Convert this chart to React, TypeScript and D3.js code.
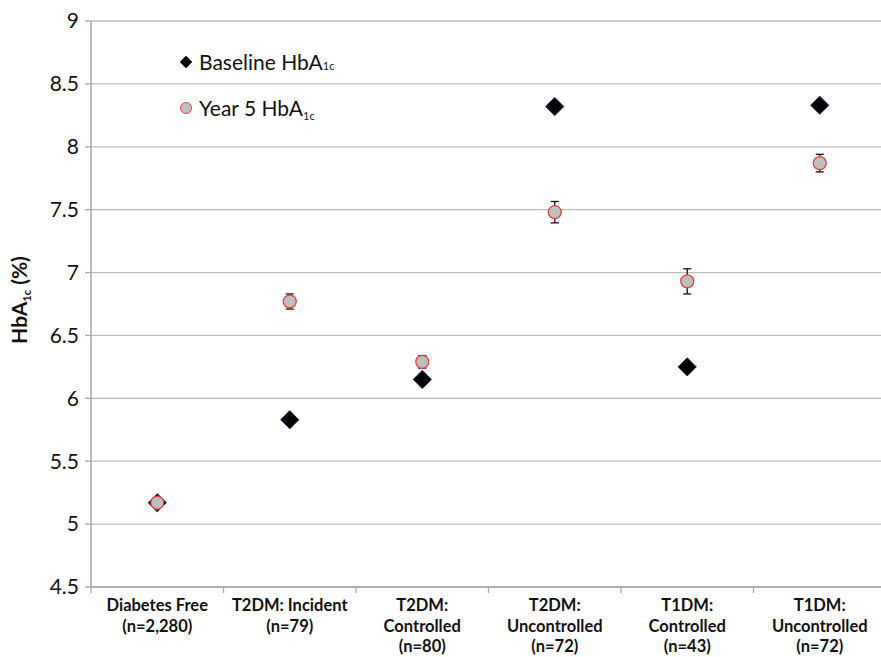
import React from "react";
import * as d3 from "d3";

const categories: string[][] = [
  ["Diabetes Free", "(n=2,280)"],
  ["T2DM: Incident", "(n=79)"],
  ["T2DM:", "Controlled", "(n=80)"],
  ["T2DM:", "Uncontrolled", "(n=72)"],
  ["T1DM:", "Controlled", "(n=43)"],
  ["T1DM:", "Uncontrolled", "(n=72)"],
];
const baseline = [5.17, 5.83, 6.15, 8.32, 6.25, 8.33];
const year5 = [5.17, 6.77, 6.29, 7.48, 6.93, 7.87];
const year5Err = [0, 0.06, 0.05, 0.085, 0.1, 0.07];
const yTicks = [4.5, 5, 5.5, 6, 6.5, 7, 7.5, 8, 8.5, 9];

const W = 881;
const H = 657;
const FONT = "Lato, 'Open Sans', sans-serif";

export default function App() {
  const x = d3.scaleBand<number>().domain(d3.range(categories.length)).range([91, 886]);
  const y = d3.scaleLinear().domain([4.5, 9]).range([587, 21]);
  const diamond = d3.symbol().type(d3.symbolDiamond2).size(210)();
  const legDiamond = d3.symbol().type(d3.symbolDiamond2).size(100)();
  const cx = (i: number) => (x(i) as number) + x.bandwidth() / 2;

  return (
    <svg width={W} height={H} style={{ position: "absolute", left: 0, top: 0, background: "#fff" }} fontFamily={FONT}>
      {/* gridlines */}
      {yTicks.map((t) => (
        <line key={"g" + t} x1={91} x2={886} y1={y(t)} y2={y(t)} stroke="#bdbdbd" strokeWidth={1.3} />
      ))}
      {/* y axis */}
      <line x1={91} x2={91} y1={y(9)} y2={y(4.5)} stroke="#a6a6a6" strokeWidth={1.5} />
      {yTicks.map((t) => (
        <g key={"t" + t}>
          <line x1={85} x2={91} y1={y(t)} y2={y(t)} stroke="#a6a6a6" strokeWidth={1.3} />
          <text x={79} y={y(t)} dy="0.35em" textAnchor="end" fontSize={21} fill="#111">
            {t}
          </text>
        </g>
      ))}
      {/* x axis */}
      <line x1={91} x2={886} y1={587} y2={587} stroke="#a6a6a6" strokeWidth={1.5} />
      {d3.range(categories.length + 1).map((i) => {
        const xv = i < categories.length ? (x(i) as number) : 886;
        return <line key={"xt" + i} x1={xv} x2={xv} y1={587} y2={593} stroke="#a6a6a6" strokeWidth={1.3} />;
      })}
      {categories.map((lines, i) => (
        <text key={"c" + i} x={cx(i)} textAnchor="middle" fontSize={16.5} fontWeight="bold" fill="#111">
          {lines.map((l, j) => (
            <tspan key={j} x={cx(i)} y={611 + j * 20.5}>
              {l}
            </tspan>
          ))}
        </text>
      ))}
      {/* y label */}
      <text transform="translate(27,300) rotate(-90)" textAnchor="middle" fontSize={21} fontWeight="bold" fill="#111">
        HbA<tspan fontSize={11} dy={4}>1c</tspan>
        <tspan dy={-4}> (%)</tspan>
      </text>
      {/* baseline diamonds */}
      {baseline.map((v, i) => (
        <path key={"b" + i} d={diamond as string} transform={`translate(${cx(i)},${y(v)})`} fill="#000" stroke="#1c1c5a" strokeWidth={1} />
      ))}
      {/* error bars */}
      {year5.map((v, i) =>
        year5Err[i] > 0 ? (
          <g key={"e" + i} stroke="#111" strokeWidth={1.3}>
            <line x1={cx(i)} x2={cx(i)} y1={y(v + year5Err[i])} y2={y(v - year5Err[i])} />
            <line x1={cx(i) - 4} x2={cx(i) + 4} y1={y(v + year5Err[i])} y2={y(v + year5Err[i])} />
            <line x1={cx(i) - 4} x2={cx(i) + 4} y1={y(v - year5Err[i])} y2={y(v - year5Err[i])} />
          </g>
        ) : null
      )}
      {/* year 5 circles */}
      {year5.map((v, i) => (
        <circle key={"y" + i} cx={cx(i)} cy={y(v)} r={6.5} fill="#bfbfbf" stroke="#e0443c" strokeWidth={1.3} />
      ))}
      {/* legend */}
      <path d={legDiamond as string} transform="translate(186,62)" fill="#000" />
      <text x={199} y={70} fontSize={21} fill="#111">
        Baseline HbA<tspan fontSize={11}>1c</tspan>
      </text>
      <circle cx={186} cy={108} r={5.5} fill="#bfbfbf" stroke="#e0443c" strokeWidth={1} />
      <text x={199} y={116} fontSize={21} fill="#111">
        Year 5 HbA<tspan fontSize={11} dy={4}>1c</tspan>
      </text>
    </svg>
  );
}
